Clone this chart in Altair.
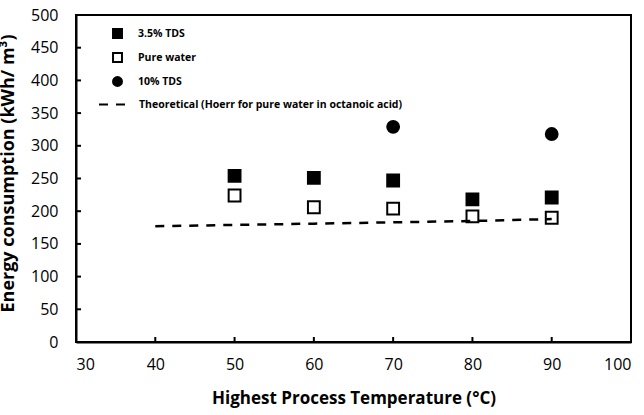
import altair as alt
import pandas as pd

# ---- data ----
temps = [50, 60, 70, 80, 90]
tds35 = [254, 251, 247, 218, 221]
pure = [224, 206, 204, 192, 190]
tds10_temps = [70, 90]
tds10 = [329, 318]
theo_temps = [40, 50, 60, 70, 80, 90]
theo = [177, 179, 181, 183, 185, 188]
x_ticks = [30, 40, 50, 60, 70, 80, 90, 100]
y_ticks = [0, 50, 100, 150, 200, 250, 300, 350, 400, 450, 500]
inner_x_ticks = [40, 50, 60, 70, 80, 90]
inner_y_ticks = [50, 100, 150, 200, 250, 300, 350, 400, 450]

S1 = "3.5% TDS"
S2 = "Pure water"
S3 = "10% TDS"
S4 = "Theoretical (Hoerr for pure water in octanoic acid)"

rows = []
for t, v in zip(temps, tds35):
    rows.append({"T": t, "E": v, "series": S1})
for t, v in zip(temps, pure):
    rows.append({"T": t, "E": v, "series": S2})
for t, v in zip(tds10_temps, tds10):
    rows.append({"T": t, "E": v, "series": S3})
pts = pd.DataFrame(rows)
theo_df = pd.DataFrame({"T": theo_temps, "E": theo, "series": [S4] * len(theo)})

W, H = 555, 327
FONT = "Open Sans"
DASH = [9, 8]

xs = alt.Scale(domain=[30, 100], nice=False)
ys = alt.Scale(domain=[0, 500], nice=False)

xaxis = alt.Axis(values=x_ticks, title="Highest Process Temperature (°C)", tickSize=0,
                 labelPadding=14, titlePadding=18, labelFontSize=16, titleFontSize=17,
                 titleFontWeight="bold", grid=False, labelOverlap=False)
yaxis = alt.Axis(values=y_ticks, title="Energy consumption (kWh/ m³)", tickSize=0,
                 labelPadding=18, labelFontSize=16, titleFontSize=18,
                 titleFontWeight="bold", grid=False, titleAngle=270, labelOverlap=False,
                 titleX=-68, titleY=158, titleAlign="center", titleBaseline="middle")

leg_pts = alt.Legend(title=None, orient="none", legendX=36, legendY=13, symbolSize=80,
                     labelFontSize=10.5, labelFontWeight="bold", labelOffset=15,
                     rowPadding=7, padding=0, symbolStrokeWidth=2, labelLimit=500,
                     symbolStrokeColor="black")

points = alt.Chart(pts).mark_point(filled=True, strokeWidth=2, opacity=1).encode(
    x=alt.X("T:Q", scale=xs, axis=xaxis),
    y=alt.Y("E:Q", scale=ys, axis=yaxis),
    shape=alt.Shape("series:N", scale=alt.Scale(domain=[S1, S2, S3], range=["square", "square", "circle"]), legend=leg_pts),
    fill=alt.Fill("series:N", scale=alt.Scale(domain=[S1, S2, S3], range=["black", "white", "black"]), legend=leg_pts),
    stroke=alt.Stroke("series:N", scale=alt.Scale(domain=[S1, S2, S3], range=["black", "black", "black"]), legend=leg_pts),
    size=alt.Size("series:N", scale=alt.Scale(domain=[S1, S2, S3], range=[140, 140, 180]), legend=None),
)

leg_line = alt.Legend(title=None, orient="none", legendX=22, legendY=75, symbolSize=729,
                      symbolType="stroke", labelFontSize=10.5, labelFontWeight="bold",
                      labelOffset=12, padding=0, symbolStrokeWidth=2, labelLimit=500,
                      symbolStrokeColor="black")

line = alt.Chart(theo_df).mark_line(color="black", strokeWidth=2.5).encode(
    x=alt.X("T:Q", scale=xs, axis=xaxis),
    y=alt.Y("E:Q", scale=ys, axis=yaxis),
    strokeDash=alt.StrokeDash("series:N", scale=alt.Scale(domain=[S4], range=[DASH]), legend=leg_line),
)

xt = alt.Chart(pd.DataFrame({"T": inner_x_ticks})).mark_rule(color="black", strokeWidth=2).encode(
    x=alt.X("T:Q", scale=xs, axis=xaxis), y=alt.value(H), y2=alt.value(H - 5))
yt = alt.Chart(pd.DataFrame({"E": inner_y_ticks})).mark_rule(color="black", strokeWidth=2).encode(
    y=alt.Y("E:Q", scale=ys, axis=yaxis), x=alt.value(0), x2=alt.value(5))

chart = alt.layer(points, line, xt, yt).resolve_scale(
    strokeDash="independent", shape="independent", fill="independent", stroke="independent"
).properties(
    width=W, height=H,
    autosize=alt.AutoSizeParams(type="none"),
    padding={"left": 76, "top": 15, "right": 13, "bottom": 73},
).configure(font=FONT).configure_view(
    stroke="black", strokeWidth=2
).configure_axis(
    domainColor="black", domainWidth=2, labelColor="black", titleColor="black"
).configure_legend(labelColor="black", labelFont=FONT)

chart.save("out.html", embed_options={"renderer": "svg", "actions": False})
